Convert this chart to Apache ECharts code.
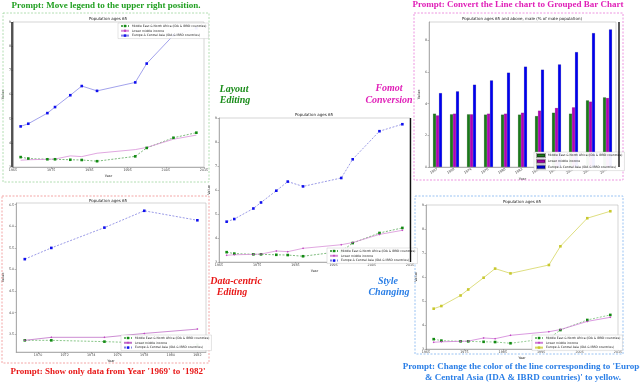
<!DOCTYPE html>
<html>
<head>
<meta charset="utf-8">
<script src="https://cdn.jsdelivr.net/npm/echarts@6/dist/echarts.min.js"></script>
<style>
  html, body { margin: 0; padding: 0; background: #fff; }
  #main { width: 640px; height: 383px; }
</style>
</head>
<body>
<div id="main"></div>
<script>
    // 原始折线图数据
    var years = [1967, 1969, 1974, 1976, 1980, 1983, 1987, 1997, 2000, 2007, 2013];
    var meAfrica = [3.41, 3.35, 3.32, 3.32, 3.30, 3.29, 3.24, 3.44, 3.79, 4.21, 4.42];
    var lowerMid = [3.28, 3.30, 3.32, 3.33, 3.46, 3.43, 3.57, 3.72, 3.81, 4.15, 4.32];
    var europeAsia = [4.68, 4.79, 5.23, 5.48, 5.97, 6.35, 6.15, 6.50, 7.28, 8.45, 8.74];
    var lineXTicks = [1965, 1975, 1985, 1995, 2005, 2015];
    var lineYTicks = [3, 4, 5, 6, 7, 8, 9];

    // 1969-1982 筛选后的数据
    var filtYears = [1969, 1971, 1975, 1978, 1982];
    var filtMe = [3.36, 3.36, 3.33, 3.30, 3.26];
    var filtLow = [3.36, 3.43, 3.43, 3.52, 3.62];
    var filtEu = [5.24, 5.50, 5.97, 6.36, 6.14];
    var filtXTicks = [1970, 1972, 1974, 1976, 1978, 1980, 1982];
    var filtYTicks = [3.5, 4.0, 4.5, 5.0, 5.5, 6.0, 6.5];

    // 分组柱状图数据
    var barYears = ['1967', '1969', '1974', '1976', '1980', '1983', '1987', '1997', '2000', '2007', '2013'];
    var barMe = [3.37, 3.33, 3.33, 3.31, 3.31, 3.31, 3.22, 3.43, 3.37, 4.21, 4.40];
    var barLow = [3.26, 3.37, 3.33, 3.37, 3.37, 3.43, 3.56, 3.73, 3.77, 4.13, 4.36];
    var barEu = [4.67, 4.78, 5.20, 5.47, 5.96, 6.34, 6.15, 6.48, 7.26, 8.46, 8.69];
    var barYTicks = [0, 2, 4, 6, 8];

    var nameMe = 'Middle East & North Africa (IDA & IBRD countries)';
    var nameLow = 'Lower middle income';
    var nameEu = 'Europe & Central Asia (IDA & IBRD countries)';

    var grids = [
        {left: 12, top: 22, width: 192, height: 145},   // 左上 legend
        {left: 219, top: 118, width: 191, height: 144}, // 中间 原图
        {left: 16, top: 203, width: 190, height: 149},  // 左下 数据筛选
        {left: 426, top: 205, width: 192, height: 144}, // 右下 颜色
        {left: 429, top: 22, width: 187, height: 145}   // 右上 柱状图
    ];
    grids.forEach(function (g) {
        g.show = true;
        g.borderColor = '#aaa';
        g.borderWidth = 0.5;
        g.backgroundColor = 'transparent';
    });

    var axisColor = '#777';
    function valueX(idx, min, max, ticks) {
        return {
            type: 'value', gridIndex: idx, min: min, max: max,
            name: 'Year', nameLocation: 'middle', nameGap: 7,
            nameTextStyle: {fontSize: 3.5, color: '#333'},
            axisLine: {onZero: false, lineStyle: {color: axisColor, width: 0.5}},
            axisTick: {length: 1.5, customValues: ticks, lineStyle: {color: axisColor, width: 0.5}},
            axisLabel: {fontSize: 3.3, color: '#444', margin: 2, customValues: ticks,
                formatter: function (v) { return String(v); }},
            splitLine: {show: false}
        };
    }
    function valueY(idx, min, max, ticks, digits) {
        return {
            type: 'value', gridIndex: idx, min: min, max: max,
            name: 'Value', nameLocation: 'middle', nameGap: 6,
            nameTextStyle: {fontSize: 3.5, color: '#333'},
            axisLine: {show: true, onZero: false, lineStyle: {color: axisColor, width: 0.5}},
            axisTick: {show: true, length: 1.5, customValues: ticks, lineStyle: {color: axisColor, width: 0.5}},
            axisLabel: {fontSize: 3.3, color: '#444', margin: 2, customValues: ticks,
                formatter: function (v) { return v.toFixed(digits); }},
            splitLine: {show: false}
        };
    }

    var xAxes = [
        valueX(0, 1965, 2015, lineXTicks),
        valueX(1, 1965, 2015, lineXTicks),
        valueX(2, 1968.35, 1982.65, filtXTicks),
        valueX(3, 1965, 2015, lineXTicks),
        {
            type: 'category', gridIndex: 4, data: barYears,
            name: 'Year', nameLocation: 'middle', nameGap: 8,
            nameTextStyle: {fontSize: 3.5, color: '#333'},
            axisLine: {lineStyle: {color: axisColor, width: 0.5}},
            axisTick: {alignWithLabel: true, length: 1.5, lineStyle: {color: axisColor, width: 0.5}},
            axisLabel: {fontSize: 3.3, color: '#444', margin: 2, rotate: 30}
        }
    ];
    var yAxes = [
        valueY(0, 3, 9, lineYTicks, 0),
        valueY(1, 3, 9, lineYTicks, 0),
        valueY(2, 3.09, 6.54, filtYTicks, 1),
        valueY(3, 3, 9, lineYTicks, 0),
        valueY(4, 0, 9.16, barYTicks, 0)
    ];

    function lineSeries(idx, tag, name, xs, ys, color, opt) {
        opt = opt || {};
        return {
            type: 'line', name: name + '#' + tag,
            xAxisIndex: idx, yAxisIndex: idx,
            data: xs.map(function (x, i) { return [x, ys[i]]; }),
            symbol: opt.symbol || 'rect',
            symbolSize: opt.symbolSize || 2.6,
            showSymbol: opt.symbol !== 'none',
            clip: false,
            lineStyle: {color: opt.lineColor || color, width: 0.8, type: opt.dash ? [2, 1.5] : 'solid'},
            itemStyle: {color: color},
            animation: false
        };
    }

    var green = '#128a12', magenta = '#c040c0', blue = '#1010ee', yellow = '#c8c82e';
    var series = [
        // 左上
        lineSeries(0, 'tl', nameMe, years, meAfrica, green, {dash: true, lineColor: '#5aa85a'}),
        lineSeries(0, 'tl', nameLow, years, lowerMid, magenta, {symbol: 'none', lineColor: '#d890d8'}),
        lineSeries(0, 'tl', nameEu, years, europeAsia, blue, {lineColor: '#8a8ae6'}),
        // 中间
        lineSeries(1, 'c', nameMe, years, meAfrica, green, {dash: true, lineColor: '#5aa85a'}),
        lineSeries(1, 'c', nameLow, years, lowerMid, magenta, {symbol: 'diamond', symbolSize: 2, lineColor: '#d890d8'}),
        lineSeries(1, 'c', nameEu, years, europeAsia, blue, {dash: true, lineColor: '#8080e0'}),
        // 左下
        lineSeries(2, 'ml', nameMe, filtYears, filtMe, green, {dash: true, lineColor: '#6ab86a'}),
        lineSeries(2, 'ml', nameLow, filtYears, filtLow, magenta, {symbol: 'diamond', symbolSize: 2, lineColor: '#c070c8'}),
        lineSeries(2, 'ml', nameEu, filtYears, filtEu, blue, {dash: true, lineColor: '#8080e0'}),
        // 右下
        lineSeries(3, 'mr', nameMe, years, meAfrica, green, {dash: true, lineColor: '#7ac07a'}),
        lineSeries(3, 'mr', nameLow, years, lowerMid, magenta, {symbol: 'diamond', symbolSize: 2, lineColor: '#d080d8'}),
        lineSeries(3, 'mr', nameEu, years, europeAsia, yellow, {lineColor: '#d6d660'})
    ];
    [[nameMe, barMe, '#1a7a1a'], [nameLow, barLow, '#b000b8'], [nameEu, barEu, '#0000ee']].forEach(function (b) {
        series.push({
            type: 'bar', name: b[0] + '#bar', xAxisIndex: 4, yAxisIndex: 4,
            data: b[1], barWidth: 3, barGap: '0%',
            itemStyle: {color: b[2], borderColor: 'rgba(0,0,0,0.35)', borderWidth: 0.3},
            animation: false
        });
    });

    function legendAt(tag, left, top, icons) {
        return {
            left: left, top: top, orient: 'vertical',
            data: [nameMe, nameLow, nameEu].map(function (n) { return n + '#' + tag; }),
            formatter: function (n) { return n.split('#')[0]; },
            backgroundColor: 'rgba(255,255,255,0.95)', borderColor: '#bbb', borderWidth: 0.4,
            padding: [1, 2], itemWidth: 8, itemHeight: 3, itemGap: 0.8,
            selectedMode: false,
            textStyle: {fontSize: 3, color: '#222', lineHeight: 4, padding: [0, 0, 0, -2]},
            icon: icons
        };
    }
    var legends = [
        legendAt('tl', 118, 23),
        legendAt('c', 327, 248),
        legendAt('ml', 121, 335),
        legendAt('mr', 532, 335),
        legendAt('bar', 534, 152, 'rect')
    ];

    // 说明文字、虚线框
    var serif = '"Liberation Serif", "DejaVu Serif", serif';
    function txt(text, x, y, color, font) {
        return {type: 'text', x: x, y: y, z: 100,
            style: {text: text, fill: color, font: font, align: 'center', verticalAlign: 'middle'}};
    }
    function box(x1, y1, x2, y2, color) {
        return {type: 'rect', z: 1, shape: {x: x1, y: y1, width: x2 - x1, height: y2 - y1},
            style: {fill: 'none', stroke: color, lineWidth: 0.8, lineDash: [2, 1.5]}};
    }
    function vline(x, y1, y2) {
        return {type: 'line', z: 50, shape: {x1: x, y1: y1, x2: x, y2: y2},
            style: {stroke: '#111', lineWidth: 1.4}};
    }
    var promptFont = 'bold 9px ' + serif;
    var tagFont = 'italic bold 10px ' + serif;
    var titleFont = '4px "DejaVu Sans", sans-serif';
    var graphics = [
        box(3, 13, 209, 182, '#9ed69e'),
        box(414, 13, 623, 180, '#e87ad8'),
        box(2, 196, 209, 363, '#f09090'),
        box(415, 196, 623, 354, '#80b4f0'),
        vline(12, 22, 167),
        vline(410.5, 118, 262),
        vline(619, 22, 167),
        txt('Population ages 65', 108, 18.5, '#222', titleFont),
        txt('Population ages 65', 314, 114.5, '#222', titleFont),
        txt('Population ages 65', 108, 200.5, '#222', titleFont),
        txt('Population ages 65', 522, 201.5, '#222', titleFont),
        txt('Population ages 65 and above, male (% of male population)', 522, 18.5, '#222', titleFont),
        txt('Prompt: Move legend to the upper right position.', 106, 6, '#22a022', promptFont),
        txt('Prompt: Convert the Line chart to Grouped Bar Chart', 518, 5, '#e020b8', promptFont),
        txt("Prompt: Show only data from Year '1969' to '1982'", 108, 371.5, '#e81818', promptFont),
        txt("Prompt: Change the color of the line corresponding to 'Europe", 523, 367, '#2a7ee6', promptFont),
        txt("& Central Asia (IDA & IBRD countries)' to yellow.", 523, 377.5, '#2a7ee6', promptFont),
        txt('Layout', 234, 89, '#1a8c1a', tagFont),
        txt('Editing', 235, 100.5, '#1a8c1a', tagFont),
        txt('Fomot', 389, 88.5, '#e020b8', tagFont),
        txt('Conversion', 389, 100.5, '#e020b8', tagFont),
        txt('Data-centric', 236, 281, '#e81818', tagFont),
        txt('Editing', 232, 292.5, '#e81818', tagFont),
        txt('Style', 388, 281, '#2a7ee6', tagFont),
        txt('Changing', 389, 292.5, '#2a7ee6', tagFont)
    ];

    var myChart = echarts.init(document.getElementById('main'), null, {renderer: 'canvas'});
    var option = {
        animation: false,
        backgroundColor: '#fff',
        textStyle: {fontFamily: '"DejaVu Sans", sans-serif'},
        grid: grids,
        xAxis: xAxes,
        yAxis: yAxes,
        legend: legends,
        series: series,
        graphic: graphics
    };
    myChart.setOption(option);
</script>
</body>
</html>
